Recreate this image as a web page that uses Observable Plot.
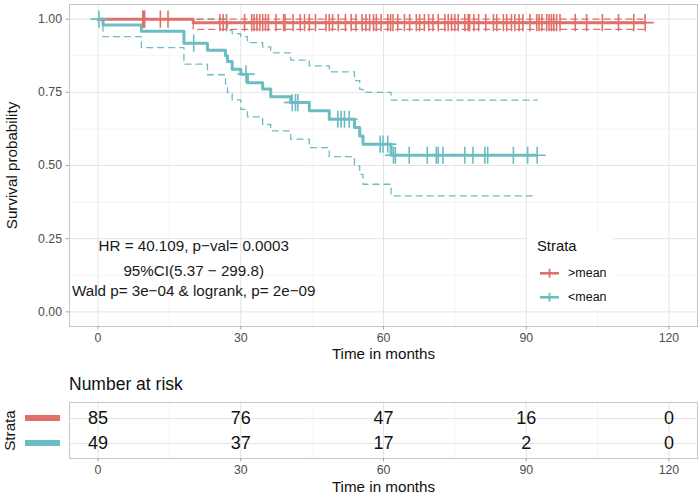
<!DOCTYPE html>
<html>
<head>
<meta charset="utf-8">
<script src="https://cdn.jsdelivr.net/npm/d3@7"></script>
<script src="https://cdn.jsdelivr.net/npm/@observablehq/plot@0.6"></script>
<style>
  body { margin: 0; background: #fff; }
  #wrap { position: relative; width: 700px; height: 496px; background: #fff; font-family: "Liberation Sans", Arial, Helvetica, sans-serif; color: #111; }
  .abs { position: absolute; }
</style>
</head>
<body>
<div id="wrap"></div>
<script>
// ---------- data ----------
const strataNames = [">mean", "<mean"];
const strataColors = ["#E0716A", "#6CBDC3"];

// >mean group (Kaplan–Meier step values)
const highTimes = [0, 20.0];
const highSurv = [1, 0.988];
const highLower = [1, 0.965];
const highUpper = [1, 1];
const highEnd = 115.0;
const highCensor = [9.4, 9.6, 9.8, 13.1, 14.7, 25.6, 26.3, 27.0,
  30.8, 32.3, 32.8, 33.4, 34.0, 34.6, 35.2, 35.8, 37.4, 39.0, 39.3, 41.0, 42.5, 43.4, 44.4, 45.7,
  47.9, 48.6, 49.3, 50.5, 52.0, 53.2, 54.2, 55.5, 56.3, 57.1, 57.9, 58.5, 59.5,
  60.9, 61.5, 62.0, 63.0, 64.4, 65.5, 66.9, 67.6, 68.6, 69.5, 70.4, 71.5, 72.9, 73.6, 74.3, 75.0,
  75.7, 77.1, 77.8, 78.1, 79.0, 80.0, 81.5, 83.1, 83.8, 85.2, 85.9, 86.9, 87.6, 88.5, 89.3,
  90.8, 92.2, 92.7, 93.3, 94.3, 94.8, 95.3, 95.8, 96.4, 97.1, 100.3, 102.7, 106.0, 109.4, 112.6, 115.0];

// <mean group
const lowTimes = [0, 1.05, 9.1, 18.05, 23.0, 26.8, 27.2, 28.2, 30.0, 31.4, 34.6, 36.3, 40.5, 44.4, 48.6, 53.9, 55.0, 55.7, 61.6];
const lowSurv = [1, 0.980, 0.959, 0.918, 0.894, 0.875, 0.855, 0.829, 0.812, 0.783, 0.761, 0.735, 0.715, 0.687, 0.658, 0.630, 0.601, 0.573, 0.535];
const lowLower = [1, 0.940, 0.903, 0.846, 0.810, 0.778, 0.749, 0.724, 0.692, 0.666, 0.640, 0.618, 0.590, 0.561, 0.530, 0.499, 0.470, 0.436, 0.396];
const lowUpper = [1, 1, 1, 1, 1, 1, 0.962, 0.950, 0.940, 0.920, 0.905, 0.885, 0.860, 0.840, 0.820, 0.790, 0.760, 0.750, 0.723];
const lowEnd = 92.3;
const lowCensor = [0.2, 20.1, 31.1, 40.8, 41.5, 42.0, 50.4, 51.1, 51.8, 52.8, 59.3, 59.9, 60.9, 62.1, 62.5,
  65.4, 69.2, 71.1, 71.5, 72.5, 77.1, 78.8, 81.3, 81.9, 87.3, 90.3, 92.3];

// axis ticks
const majorX = [0, 30, 60, 90, 120];
const minorX = [15, 45, 75, 105];
const majorY = [0, 0.25, 0.5, 0.75, 1];
const minorY = [0.125, 0.375, 0.625, 0.875];

// annotation text
const annoLabels = ["HR = 40.109, p\u2212val= 0.0003", "95%CI(5.37 \u2212 299.8)", "Wald p= 3e\u221204 & logrank, p= 2e\u221209"];
const annoX = [20.1, 20.1, 20.1];
const annoY = [0.225, 0.14, 0.07];

// number at risk
const riskTimes = [0, 30, 60, 90, 120];
const riskHigh = [85, 76, 47, 16, 0];
const riskLow = [49, 37, 17, 2, 0];

// ---------- build tables ----------
function stepRows(name, times, vals, end, key) {
  const rows = times.map((t, i) => ({strata: name, key, t, v: vals[i]}));
  rows.push({strata: name, key, t: end, v: vals[vals.length - 1]});
  return rows;
}
function valueAt(times, vals, t) {
  let i = 0;
  while (i + 1 < times.length && times[i + 1] <= t) i++;
  return vals[i];
}
const groups = [
  {name: "<mean", times: lowTimes, surv: lowSurv, lo: lowLower, hi: lowUpper, end: lowEnd, cens: lowCensor},
  {name: ">mean", times: highTimes, surv: highSurv, lo: highLower, hi: highUpper, end: highEnd, cens: highCensor}
];
const curveRows = [], ciRows = [], censorRows = [];
for (const g of groups) {
  curveRows.push(...stepRows(g.name, g.times, g.surv, g.end, g.name));
  ciRows.push(...stepRows(g.name, g.times, g.lo, g.end, g.name + "lo"));
  ciRows.push(...stepRows(g.name, g.times, g.hi, g.end, g.name + "hi"));
  for (const t of g.cens) censorRows.push({strata: g.name, t, v: valueAt(g.times, g.surv, t)});
}
const annotations = annoLabels.map((label, i) => ({label, x: annoX[i], y: annoY[i]}));
const riskRows = [];
riskTimes.forEach((t, i) => {
  riskRows.push({strata: ">mean", t, n: String(riskHigh[i])});
  riskRows.push({strata: "<mean", t, n: String(riskLow[i])});
});

const font = "'Liberation Sans', Arial, Helvetica, sans-serif";
const gridMajor = "#e4e4e4", gridMinor = "#f1f1f1", border = "#c6c6c6", tickCol = "#a8a8a8", tickText = "#4d4d4d";

// ---------- main KM plot ----------
const main = Plot.plot({
  width: 700, height: 365,
  marginLeft: 69, marginRight: 3, marginTop: 4, marginBottom: 39,
  x: {domain: [-6, 126]},
  y: {domain: [-0.05, 1.05]},
  color: {type: "ordinal", domain: strataNames, range: strataColors},
  style: {fontFamily: font, fontSize: "12px", background: "transparent", color: "#111"},
  marks: [
    Plot.ruleX(minorX, {stroke: gridMinor, strokeWidth: 0.7}),
    Plot.ruleY(minorY, {stroke: gridMinor, strokeWidth: 0.7}),
    Plot.ruleX(majorX, {stroke: gridMajor, strokeWidth: 1}),
    Plot.ruleY(majorY, {stroke: gridMajor, strokeWidth: 1}),
    Plot.frame({stroke: border, strokeWidth: 1}),
    Plot.line(ciRows, {x: "t", y: "v", z: "key", stroke: "strata", curve: "step-after", strokeWidth: 1.3, strokeDasharray: "6,5"}),
    Plot.line(curveRows, {x: "t", y: "v", z: "strata", stroke: "strata", curve: "step-after", strokeWidth: 3}),
    Plot.dot(censorRows, {x: "t", y: "v", stroke: "strata", symbol: "plus", r: 5.6, strokeWidth: 1.6}),
    Plot.text(annotations, {x: "x", y: "y", text: "label", fontSize: 15.2, fill: "#1a1a1a"}),
    Plot.axisX({ticks: majorX, tickSize: 3.5, tickPadding: 3, fontSize: 12.3, stroke: tickCol, fill: tickText, label: null}),
    Plot.axisY({ticks: majorY, tickFormat: d3.format(".2f"), tickSize: 3.5, tickPadding: 4, fontSize: 12.3, stroke: tickCol, fill: tickText, label: null}),
    Plot.text(["Time in months"], {frameAnchor: "bottom", lineAnchor: "middle", textAnchor: "middle", dy: 28, fontSize: 15.2, fill: "#111"}),
    Plot.text(["Survival probability"], {frameAnchor: "left", textAnchor: "middle", lineAnchor: "middle", dx: -57, rotate: -90, fontSize: 15.2, fill: "#111"})
  ]
});

// ---------- risk table ----------
const risk = Plot.plot({
  width: 700, height: 100,
  marginLeft: 69, marginRight: 3, marginTop: 6, marginBottom: 38,
  x: {domain: [-6, 126]},
  y: {type: "point", domain: strataNames, padding: 0.6, axis: null},
  style: {fontFamily: font, fontSize: "12px", background: "transparent", color: "#111"},
  marks: [
    Plot.ruleX(minorX, {stroke: gridMinor, strokeWidth: 0.7}),
    Plot.ruleX(majorX, {stroke: gridMajor, strokeWidth: 1}),
    Plot.ruleY(strataNames, {y: d => d, stroke: gridMajor, strokeWidth: 1}),
    Plot.frame({stroke: border, strokeWidth: 1}),
    Plot.text(riskRows, {x: "t", y: "strata", text: "n", fontSize: 18, fill: "#111"}),
    Plot.axisX({ticks: majorX, tickSize: 3.5, tickPadding: 3, fontSize: 12.3, stroke: tickCol, fill: tickText, label: null}),
    Plot.text(["Time in months"], {frameAnchor: "bottom", lineAnchor: "middle", textAnchor: "middle", dy: 29, fontSize: 15.2, fill: "#111"}),
    Plot.text(["Strata"], {frameAnchor: "left", textAnchor: "middle", lineAnchor: "middle", dx: -59, rotate: -90, fontSize: 15.2, fill: "#111"})
  ]
});

// ---------- assemble ----------
const wrap = document.getElementById("wrap");
main.style.position = "absolute"; main.style.left = "0px"; main.style.top = "0px";
wrap.appendChild(main);

// legend (inside panel)
const legend = document.createElement("div");
legend.className = "abs";
Object.assign(legend.style, {left: "527px", top: "232px", width: "86px", height: "78px", background: "#fff"});
let lg = `<div class="abs" style="left:10px;top:7px;font-size:14.8px;line-height:1;color:#111">Strata</div>`;
lg += `<svg class="abs" style="left:0;top:0" width="86" height="78">`;
strataNames.forEach((n, i) => {
  const cy = 41.3 + i * 24;
  lg += `<line x1="13" x2="32" y1="${cy}" y2="${cy}" stroke="${strataColors[i]}" stroke-width="2.6"/>`;
  lg += `<line x1="22.5" x2="22.5" y1="${cy - 4.5}" y2="${cy + 4.5}" stroke="${strataColors[i]}" stroke-width="1.8"/>`;
});
lg += `</svg>`;
strataNames.forEach((n, i) => {
  const cy = 41.3 + i * 24;
  lg += `<div class="abs" style="left:41px;top:${cy - 6.5}px;font-size:12.5px;line-height:1;color:#111">${n.replace("<", "&lt;").replace(">", "&gt;")}</div>`;
});
legend.innerHTML = lg;
wrap.appendChild(legend);

// risk table title
const rt = document.createElement("div");
rt.className = "abs";
Object.assign(rt.style, {left: "69px", top: "376px", fontSize: "17.5px", lineHeight: "1", color: "#111"});
rt.textContent = "Number at risk";
wrap.appendChild(rt);

risk.style.position = "absolute"; risk.style.left = "0px"; risk.style.top = "396px";
wrap.appendChild(risk);

// strata colour keys of the risk table
strataNames.forEach((n, i) => {
  const b = document.createElement("div");
  b.className = "abs";
  Object.assign(b.style, {left: "25px", top: (414.7 + i * 25.6) + "px", width: "35px", height: "6px", background: strataColors[i]});
  wrap.appendChild(b);
});
</script>
</body>
</html>
